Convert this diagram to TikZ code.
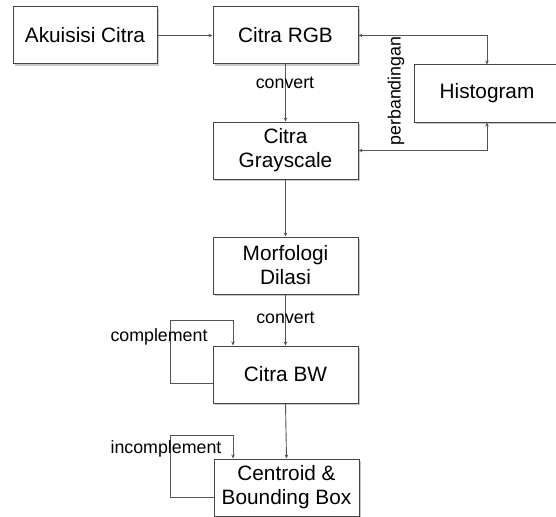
\documentclass[tikz,border=0pt]{standalone}
\usepackage{fontspec}
\setmainfont{Liberation Sans}
\usetikzlibrary{arrows.meta,shadows,calc}
\definecolor{boxline}{HTML}{454545}
\definecolor{conline}{HTML}{555555}
\definecolor{shadowc}{HTML}{C8C8C8}
\tikzset{
  procbox/.style={draw=boxline, line width=1pt, fill=white, minimum width=145pt, minimum height=57pt,
    inner sep=0pt, align=center, font=\fontsize{20.8}{24}\selectfont,
    drop shadow={shadow xshift=2pt, shadow yshift=-2pt, fill=shadowc, opacity=1}},
  conn/.style={draw=conline, line width=0.9pt, -{Stealth[length=4pt,width=3.5pt]}},
  biconn/.style={draw=conline, line width=0.9pt, {Stealth[length=4pt,width=3.5pt]}-{Stealth[length=4pt,width=3.5pt]}},
  lbl/.style={inner sep=0pt, font=\fontsize{17.8}{20}\selectfont}
}
\begin{document}
\begin{tikzpicture}[x=1pt,y=-1pt]
\useasboundingbox (0,0) rectangle (556,516);
\clip (0,0) rectangle (556,516);
\fill[white] (0,0) rectangle (556,516);
\node[procbox, minimum width=144pt] (akuisisi) at (85,35.5) {Akuisisi Citra};
\node[procbox] (rgb) at (285.5,35.5) {Citra RGB};
\node[procbox, minimum width=146pt] (hist) at (487,93.5) {Histogram};
\node[procbox] (gray) at (285.5,150.5) {Citra\\Grayscale};
\node[procbox] (morf) at (285.5,265.5) {Morfologi\\Dilasi};
\node[procbox] (bw) at (285.5,374.5) {Citra BW};
\node[procbox] (cent) at (286.5,487.5) {Centroid \&\\Bounding Box};

\draw[conn] (akuisisi.east) -- (rgb.west);
\draw[conn] (rgb.south) -- (gray.north);
\draw[biconn] (rgb.east) -| (hist.north);
\draw[biconn] (gray.east) -| (hist.south);
\draw[conn] (gray.south) -- (morf.north);
\draw[conn] (morf.south) -- (bw.north);
\draw[conn] (bw.south) -- (cent.north);

\coordinate (c1) at (170,320);
\draw[conn] ([yshift=-8.5pt]bw.west) -| (c1) -| ([xshift=-52.5pt]bw.north);
\coordinate (c2) at (170,435);
\draw[conn] ([yshift=-9.5pt]cent.west) -| (c2) -| ([xshift=-53.5pt]cent.north);

\node[lbl] (conv1) at (285,83) {convert};
\node[lbl] (conv2) at (285.5,318) {convert};
\node[lbl, rotate=90] (perb) at (396,91) {perbandingan};
\node[lbl] (compl) at (159,337) {complement};
\node[lbl] (incompl) at (166,449) {incomplement};
\end{tikzpicture}
\end{document}
